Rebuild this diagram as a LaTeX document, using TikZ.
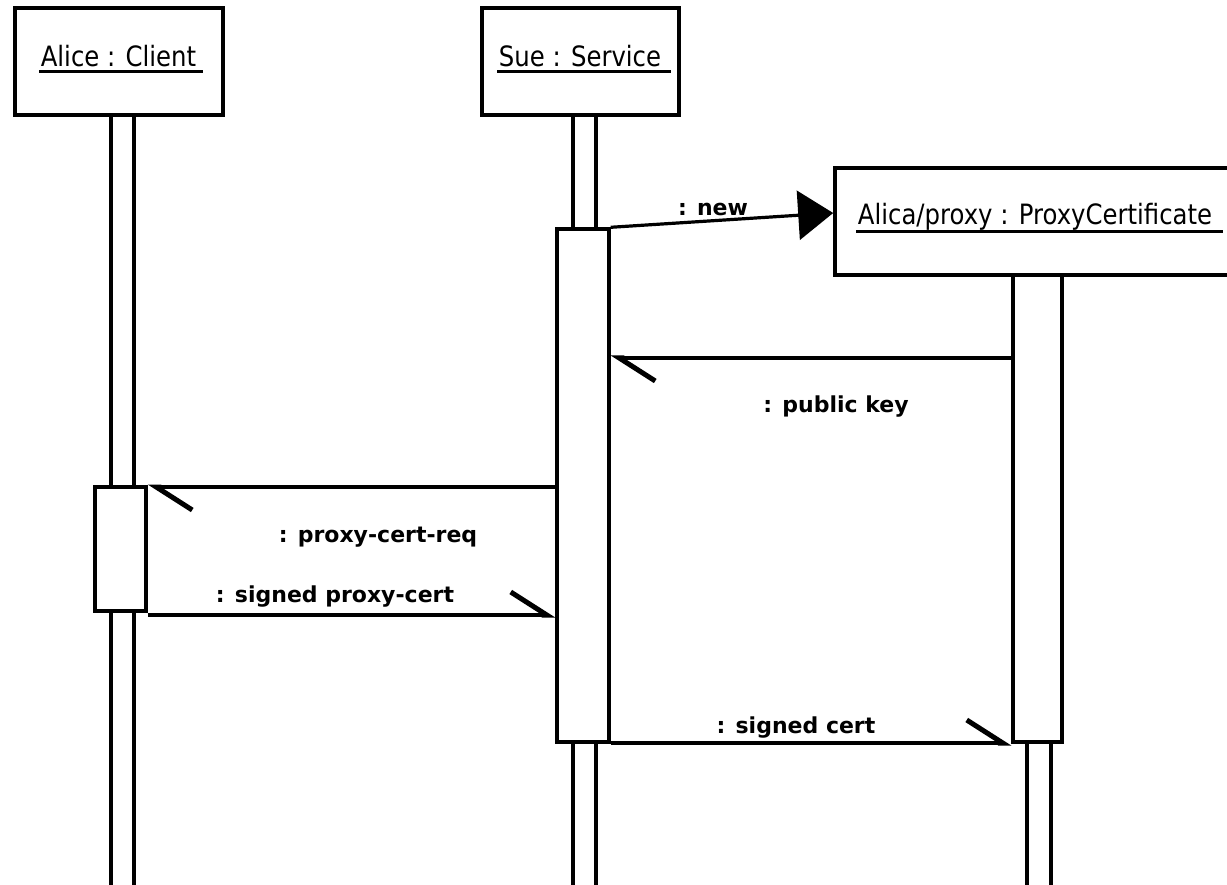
\documentclass[tikz,border=0pt]{standalone}
\usepackage{fontspec}
\usetikzlibrary{arrows.meta}
\newfontfamily\hdfont[FakeStretch=0.87]{DejaVu Sans}
\newfontfamily\lbfont[FakeStretch=1.0]{DejaVu Sans}

\begin{document}
\begin{tikzpicture}[x=1pt,y=-1pt,line width=3.4pt,
  objbox/.style={draw,fill=white,line width=3.6pt,inner sep=0pt,
                 minimum height=107pt},
  bar/.style={draw,fill=white,line width=3.4pt,inner sep=0pt},
  objname/.style={font=\hdfont\fontsize{28}{32}\selectfont,inner sep=0pt,anchor=base},
  msglabel/.style={font=\lbfont\bfseries\fontsize{22}{26}\selectfont,inner sep=0pt,anchor=base},
  msg/.style={line width=3.2pt},
  reply/.style={msg,-{Straight Barb[harpoon,length=36pt,width=46pt,line width=5pt]}},
  create/.style={msg,-{Triangle[length=35pt,width=49pt]}},
  uline/.style={line width=3pt}]

\clip (0,0) rectangle (1227,885);
\fill[white] (0,0) rectangle (1227,885);

% lifelines
\node[bar,minimum width=23pt,minimum height=780pt] (alicel) at (122.5,505) {};
\node[bar,minimum width=23pt,minimum height=780pt] (suel) at (584.5,505) {};
\node[bar,minimum width=24pt,minimum height=153pt] (proxyl) at (1039,818.5) {};

% activations
\node[bar,minimum width=51pt,minimum height=124pt] (alicea) at (120.5,549) {};
\node[bar,minimum width=52pt,minimum height=513pt] (suea) at (583,485.5) {};
\node[bar,minimum width=49pt,minimum height=467pt] (proxya) at (1037.5,508.5) {};

% object boxes
\node[objbox,minimum width=208pt] (alice) at (119,61.5) {};
\node[objbox,minimum width=197pt] (sue) at (580.5,61.5) {};
\node[objbox,minimum width=397pt] (proxy) at (1033.5,221.5) {};

\node[objname] (alicet) at (118.5,67) {Alice : Client};
\node[objname] (suet) at (580,67) {Sue : Service};
\node[objname] (proxyt) at (1035,225) {Alica/proxy : ProxyCertificate};
\draw[uline] ([yshift=-5pt]alicet.base west) -- ([yshift=-5pt,xshift=5pt]alicet.base east);
\draw[uline] ([yshift=-5pt]suet.base west) -- ([yshift=-5pt,xshift=8pt]suet.base east);
\draw[uline] ([yshift=-7pt]proxyt.base west) -- ([yshift=-7pt,xshift=9pt]proxyt.base east);

% message rows
\coordinate (rnew) at (0,213);
\coordinate (rkey) at (0,358);
\coordinate (rreq) at (0,487);
\coordinate (rsig) at (0,615);
\coordinate (rcert) at (0,743);

\draw[create] (suea.north east) -- (proxy.west |- rnew);
\node[msglabel] (lnew) at (713,216) {: new};

\draw[reply] (proxya.west |- rkey) -- (suea.east |- rkey);
\node[msglabel] (lkey) at (836,413) {: public key};

\draw[reply] (suea.west |- rreq) -- (alicea.east |- rreq);
\node[msglabel] (lreq) at (378,542) {: proxy-cert-req};

\draw[reply] (alicea.east |- rsig) -- (suea.west |- rsig);
\node[msglabel] (lsig) at (335,602) {: signed proxy-cert};

\draw[reply] (suea.east |- rcert) -- (proxya.west |- rcert);
\node[msglabel] (lcert) at (796,733) {: signed cert};
\end{tikzpicture}
\end{document}
